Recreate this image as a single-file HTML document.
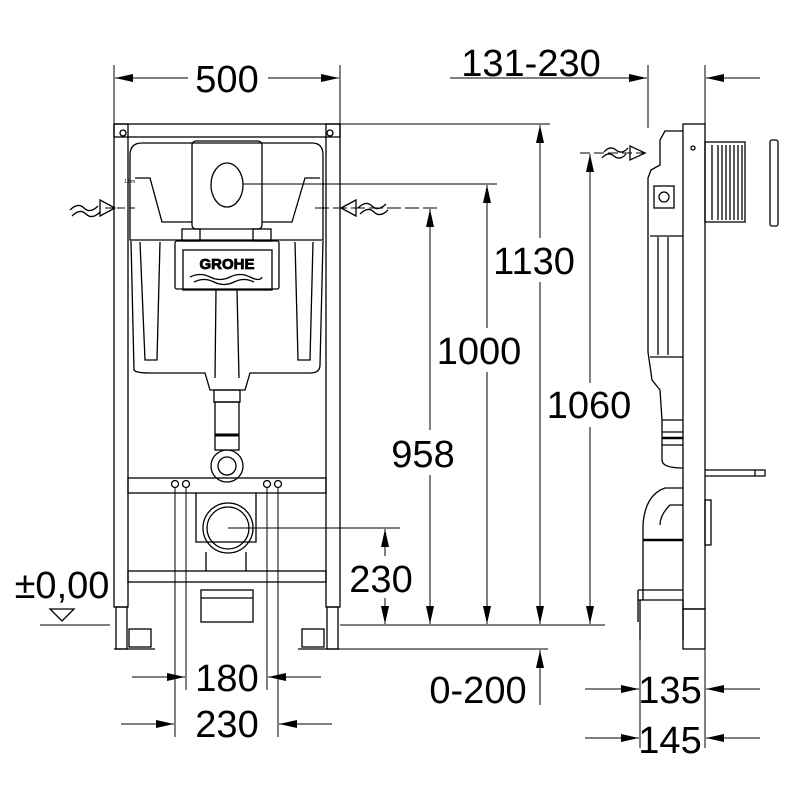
<!DOCTYPE html>
<html><head><meta charset="utf-8"><style>html,body{margin:0;padding:0;background:#fff}svg{display:block}text{font-family:"Liberation Sans",sans-serif;fill:#000}</style></head><body>
<svg width="800" height="800" viewBox="0 0 800 800" xmlns="http://www.w3.org/2000/svg">
<defs>
<marker id="a" markerWidth="18" markerHeight="8" refX="18" refY="4" orient="auto" markerUnits="userSpaceOnUse"><path d="M0,0 L18,4 L0,8z" fill="#000"/></marker>
</defs>
<g stroke="#000" fill="none" stroke-width="1.3">
<rect x="114" y="124" width="226" height="13"/>
<rect x="114" y="124" width="14" height="483"/>
<rect x="326" y="124" width="14" height="483"/>
<rect x="116" y="607" width="11" height="42"/>
<rect x="327" y="607" width="11" height="42"/>
<circle cx="123" cy="133" r="3"/><circle cx="330" cy="133" r="3"/>
<rect x="129" y="629" width="22" height="18"/><rect x="302" y="629" width="22" height="18"/>
<line x1="114" y1="649" x2="155" y2="649"/><line x1="298" y1="649" x2="340" y2="649"/>
<path d="M130,155 Q130,143 142,143 L312,143 Q323,143 323,155 L323,240 L130,240 Z"/>
<path d="M135,178 L150,178 L162,222 L192,222 M262,222 L292,222 L305,178 L320,178"/>
<path d="M131,241 L134,370 Q136,373 150,373 L205,373 L210,390 L245,390 L250,373 L310,373 Q320,373 320,365 L323,241"/>
<path d="M140,242 L145,360 L157,360 L160,242 M295,242 L298,360 L310,360 L313,242"/>
<path d="M216,290 L215,378 M237,290 L239,378"/>
<rect x="192" y="141" width="70" height="88" rx="4"/>
<ellipse cx="227" cy="185" rx="16" ry="22"/>
<rect x="183" y="250" width="89" height="40"/>
<rect x="175" y="241" width="104" height="48" rx="2"/>
<path d="M190,277 Q200,272 210,277 T230,277 T250,277 T262,277 M194,282 Q204,277 214,282 T234,282 T254,282"/>
<rect x="182" y="229" width="18" height="12"/><rect x="253" y="229" width="18" height="12"/>
<rect x="214" y="390" width="26" height="12"/>
<rect x="215" y="402" width="24" height="48"/>
<line x1="215" y1="435" x2="239" y2="435" stroke-width="3"/>
<circle cx="227" cy="466" r="16"/><circle cx="227" cy="466" r="9"/>
<rect x="128" y="478" width="198" height="15"/>
<rect x="128" y="571" width="198" height="11"/>
<circle cx="175" cy="484" r="3.5"/><circle cx="186" cy="484" r="3.5"/><circle cx="267" cy="484" r="3.5"/><circle cx="278" cy="484" r="3.5"/>
<path d="M196,493 L196,542 L256,542 L256,493"/>
<circle cx="228" cy="528" r="25"/><circle cx="228" cy="528" r="21"/>
<path d="M206,552 L206,571 M246,552 L246,571"/>
<rect x="201" y="590" width="52" height="32"/><line x1="201" y1="598" x2="253" y2="598"/>
<g stroke-width="1">
<line x1="114" y1="65" x2="114" y2="124"/><line x1="340" y1="65" x2="340" y2="124"/>
<line x1="188" y1="78" x2="115" y2="78" marker-end="url(#a)"/>
<line x1="268" y1="78" x2="339" y2="78" marker-end="url(#a)"/>
<line x1="340" y1="124" x2="550" y2="124"/>
<line x1="243" y1="184" x2="497" y2="184"/>
<line x1="315" y1="208" x2="440" y2="208" stroke-dasharray="14,4"/>
<line x1="105" y1="208" x2="135" y2="208" stroke-dasharray="8,4"/>
<line x1="228" y1="528" x2="400" y2="528"/>
<line x1="340" y1="625" x2="605" y2="625"/>
<line x1="40" y1="625" x2="110" y2="625"/>
<line x1="340" y1="649" x2="548" y2="649"/>
<line x1="540" y1="238" x2="540" y2="125" marker-end="url(#a)"/><line x1="540" y1="282" x2="540" y2="624" marker-end="url(#a)"/>
<line x1="487" y1="328" x2="487" y2="185" marker-end="url(#a)"/><line x1="487" y1="372" x2="487" y2="624" marker-end="url(#a)"/>
<line x1="430" y1="430" x2="430" y2="209" marker-end="url(#a)"/><line x1="430" y1="475" x2="430" y2="624" marker-end="url(#a)"/>
<line x1="590" y1="383" x2="590" y2="154" marker-end="url(#a)"/><line x1="590" y1="427" x2="590" y2="624" marker-end="url(#a)"/>
<line x1="385" y1="556" x2="385" y2="529" marker-end="url(#a)"/><line x1="385" y1="598" x2="385" y2="624" marker-end="url(#a)"/>
<line x1="540" y1="705" x2="540" y2="650" marker-end="url(#a)"/>
<line x1="175" y1="488" x2="175" y2="737"/><line x1="186" y1="488" x2="186" y2="690"/><line x1="267" y1="488" x2="267" y2="690"/><line x1="278" y1="488" x2="278" y2="737"/>
<line x1="132" y1="677" x2="185" y2="677" marker-end="url(#a)"/><line x1="321" y1="677" x2="268" y2="677" marker-end="url(#a)"/>
<line x1="121" y1="724" x2="174" y2="724" marker-end="url(#a)"/><line x1="332" y1="724" x2="279" y2="724" marker-end="url(#a)"/>
<line x1="450" y1="78" x2="647" y2="78" marker-end="url(#a)"/><line x1="760" y1="78" x2="706" y2="78" marker-end="url(#a)"/>
<line x1="648" y1="65" x2="648" y2="128"/><line x1="705" y1="65" x2="705" y2="124"/>
<line x1="580" y1="153" x2="648" y2="153" stroke-dasharray="10,4"/>
<line x1="640" y1="600" x2="640" y2="748"/><line x1="705" y1="649" x2="705" y2="748"/>
<line x1="585" y1="689" x2="639" y2="689" marker-end="url(#a)"/><line x1="760" y1="689" x2="706" y2="689" marker-end="url(#a)"/>
<line x1="585" y1="738" x2="639" y2="738" marker-end="url(#a)"/><line x1="760" y1="738" x2="706" y2="738" marker-end="url(#a)"/>
</g>
<path d="M70,210 Q78,202 84,208 T98,206 M72,216 Q80,208 86,214 T100,212"/>
<path d="M100,200 L115,208 L100,216 Z"/>
<path d="M356,200 L341,208 L356,216 Z"/>
<path d="M358,208 Q366,200 372,206 T386,204 M360,214 Q368,206 374,212 T388,210"/>
<path d="M604,152 Q610,145 616,150 T628,148 M602,158 Q608,151 614,156 T626,154"/>
<path d="M630,146 L645,153 L630,160 Z"/>
<path d="M50,609 L74,609 L62,621 Z"/>
<rect x="683" y="124" width="22" height="485"/>
<rect x="683" y="609" width="22" height="40"/>
<path d="M683,131 L665,131 L660,140 L660,165 L651,170 L648,178 L648,352 L652,380 L660,390 L662,420 L683,420"/>
<path d="M650,236 L683,236 M650,357 L683,357 M658,237 L658,355 M668,237 L668,355"/>
<rect x="654" y="186" width="20" height="22"/><circle cx="664" cy="197" r="5"/>
<path d="M662,420 L662,460 Q662,468 683,468 M662,432 L683,432 M662,445 L683,445" />
<line x1="662" y1="438" x2="683" y2="438" stroke-width="2.5"/>
<path d="M683,488 L665,488 Q645,495 643,525 L643,600 M683,505 L670,505 Q660,515 660,525"/>
<line x1="643" y1="540" x2="683" y2="540" stroke-width="2.5"/>
<path d="M638,590 L683,590 M638,600 L683,600 M638,590 L638,622 M640,600 L640,640 M683,600 L683,640"/>
<rect x="705" y="142" width="40" height="80"/>
<path d="M712,145 L712,220 M718,145 L718,220 M722,145 L722,220 M726,145 L726,220 M730,145 L730,220 M734,145 L734,220 M738,145 L738,220 M742,145 L742,220"/>
<rect x="770" y="140" width="8" height="86" rx="2"/>
<path d="M705,470 L755,470 L755,476 L705,476 M755,470 L765,470 L765,476 L755,476"/>
<rect x="705" y="500" width="6" height="45"/>
<circle cx="693" cy="148" r="2"/>
</g>
<text x="124" y="183" font-size="5">1.0m</text>
<text x="227" y="269" font-size="15" text-anchor="middle" font-weight="bold" fill="#fff" stroke="#000" stroke-width="0.8">GROHE</text>
<g font-size="38" text-anchor="middle">
<text x="227" y="92">500</text>
<text x="531" y="76">131-230</text>
<text x="534" y="274">1130</text>
<text x="479" y="364">1000</text>
<text x="423" y="467">958</text>
<text x="589" y="418">1060</text>
<text x="381" y="592">230</text>
<text x="227" y="691">180</text>
<text x="227" y="737">230</text>
<text x="478" y="703">0-200</text>
<text x="670" y="703">135</text>
<text x="670" y="753">145</text>
<text x="62" y="598">±0,00</text>
</g>
</svg>
</body></html>
